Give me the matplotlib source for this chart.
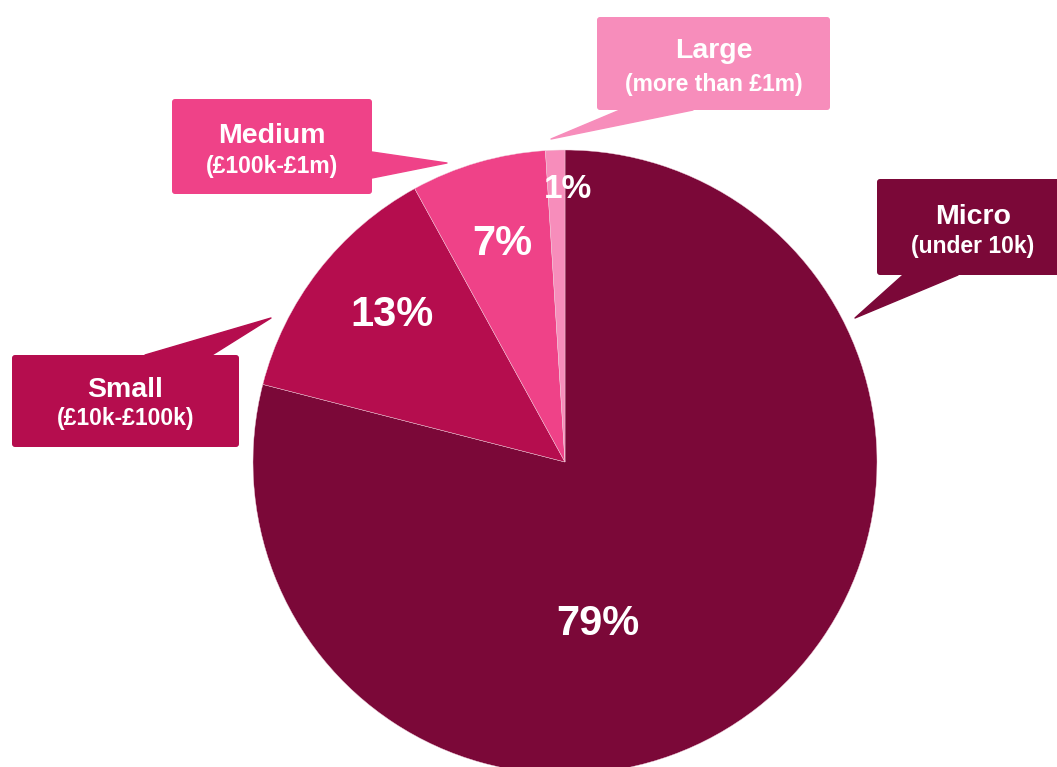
import matplotlib
matplotlib.use('Agg')
import matplotlib.pyplot as plt
from matplotlib.patches import FancyBboxPatch, Polygon

# business size split
categories = ["Micro", "Small", "Medium", "Large"]
subtitles = ["(under 10k)", "(£10k-£100k)", "(£100k-£1m)", "(more than £1m)"]
shares = [79, 13, 7, 1]
colors = ["#7B0838", "#B50D4E", "#EF4288", "#F78DBB"]

W, H = 1057, 767

# layout in pixel units (y measured from the top)
pie_center = (565, 462)
pie_radius = 312
pct_pos = [(598, 624), (392, 315), (502, 244), (568, 189)]
pct_size = [30, 30, 30, 24]
# callout boxes: (x0, y0, x1, y1), pointer base points and tip
boxes = [
    ((877, 179, 1060, 275), [(903, 275), (958, 275)], (855, 318)),
    ((12, 355, 239, 447), [(145, 355), (212, 355)], (271, 318)),
    ((172, 99, 372, 194), [(372, 152), (372, 178)], (447, 163)),
    ((597, 17, 830, 110), [(620, 110), (693, 110)], (551, 139)),
]
title_y = [217, 390, 136, 51]
sub_y = [246, 419, 166, 85]

plt.rcParams['font.family'] = ['Liberation Sans', 'DejaVu Sans']

fig = plt.figure(figsize=(W / 100, H / 100), dpi=100)
ax = fig.add_axes([0, 0, 1, 1])


def fy(y):
    return H - y


ax.pie(shares, colors=colors, startangle=90, counterclock=False,
       center=(pie_center[0], fy(pie_center[1])), radius=pie_radius,
       wedgeprops=dict(linewidth=0.3, edgecolor='#F0D0DC'), frame=True)
ax.set_xlim(0, W)
ax.set_ylim(0, H)
ax.set_aspect('equal')
ax.axis('off')

for val, (px, py), fs in zip(shares, pct_pos, pct_size):
    ax.text(px, fy(py), f"{val}%", color='white', fontsize=fs,
            fontweight='bold', ha='center', va='center')

for i, ((x0, y0, x1, y1), base, tip) in enumerate(boxes):
    c = colors[i]
    ax.add_patch(FancyBboxPatch((x0, fy(y1)), x1 - x0, y1 - y0,
                                boxstyle="round,pad=0,rounding_size=3",
                                facecolor=c, edgecolor='none', zorder=3))
    pts = [(base[0][0], fy(base[0][1])), (tip[0], fy(tip[1])),
           (base[1][0], fy(base[1][1]))]
    ax.add_patch(Polygon(pts, closed=True, facecolor=c, edgecolor=c,
                         linewidth=1, joinstyle='round', zorder=3))
    cx = (x0 + min(x1, W)) / 2 + (6 if i == 0 else 0)
    ax.text(cx, fy(title_y[i]), categories[i], color='white', fontsize=20.5,
            fontweight='bold', ha='center', va='center', zorder=4)
    ax.text(cx, fy(sub_y[i]), subtitles[i], color='white', fontsize=16.5,
            fontweight='bold', ha='center', va='center', zorder=4)

fig.savefig("out.png", dpi=100)
